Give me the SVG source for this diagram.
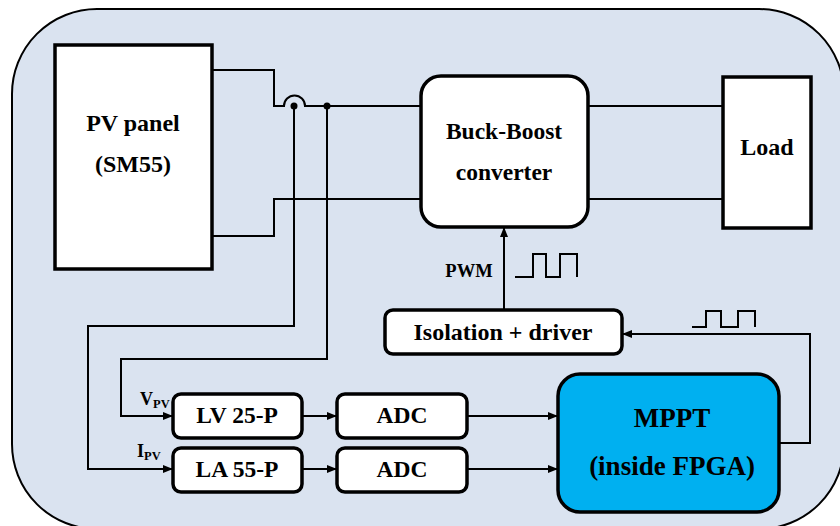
<svg xmlns="http://www.w3.org/2000/svg" width="840" height="526" viewBox="0 0 840 526">
<defs>
<marker id="arr" markerWidth="10" markerHeight="8" refX="10" refY="4" orient="auto" markerUnits="userSpaceOnUse">
<path d="M0,0 L10,4 L0,8 Z" fill="#000"/>
</marker>
<style>
.box{fill:#fff;stroke:#000;stroke-width:3.5}
.w{fill:none;stroke:#000;stroke-width:2}
.t{font-family:'Liberation Serif','Times New Roman',serif;font-weight:bold;fill:#000;text-anchor:middle}
.s{font-family:'Liberation Serif','Times New Roman',serif;font-weight:bold;fill:#000;text-anchor:start}
</style>
</defs>
<rect x="12" y="9" width="832" height="520" rx="85" ry="85" fill="#DAE3F0" stroke="#000" stroke-width="2"/>
<g id="connectors">
<path class="w" d="M212,70 H274 V106 H284 A10.5,10.5 0 0 1 305,106 H420"/>
<path class="w" d="M212,236 H274 V199 H420"/>
<path class="w" d="M588,106 H723"/>
<path class="w" d="M588,199 H723"/>
<circle cx="294" cy="106" r="3.5" fill="#000"/>
<circle cx="327" cy="106" r="3.5" fill="#000"/>
<path class="w" d="M294,106 V326 H88 V469 H173" marker-end="url(#arr)"/>
<path class="w" d="M327,106 V359 H121 V416 H173" marker-end="url(#arr)"/>
<path class="w" d="M302,416 H337" marker-end="url(#arr)"/>
<path class="w" d="M302,469 H337" marker-end="url(#arr)"/>
<path class="w" d="M467,416 H558" marker-end="url(#arr)"/>
<path class="w" d="M467,469 H558" marker-end="url(#arr)"/>
<path class="w" d="M779,443 H810 V334 H622" marker-end="url(#arr)"/>
<path class="w" d="M504,310 V227" marker-end="url(#arr)"/>
<path class="w" d="M515,277 H533 V254 H546 V277 H560 V254 H577 V277"/>
<path class="w" d="M692,327 H706 V311 H721 V327 H738 V311 H755 V327"/>
</g>
<g id="pv-panel">
<rect class="box" x="55" y="45" width="157" height="224"/>
<text class="t" x="133" y="131" font-size="24">PV panel</text>
<text class="t" x="133" y="172" font-size="24">(SM55)</text>
</g>
<g id="buck-boost">
<rect class="box" x="421" y="76" width="167" height="151" rx="20"/>
<text class="t" x="504" y="139" font-size="23.5">Buck-Boost</text>
<text class="t" x="504" y="180" font-size="23.5">converter</text>
</g>
<g id="load">
<rect class="box" x="723" y="77" width="88" height="151"/>
<text class="t" x="767" y="155" font-size="24">Load</text>
</g>
<g id="pwm-label">
<text class="t" x="469" y="277" font-size="18.5">PWM</text>
</g>
<g id="isolation">
<rect class="box" x="385" y="310" width="237" height="44" rx="8"/>
<text class="t" x="503" y="340" font-size="24">Isolation + driver</text>
</g>
<g id="lv25p">
<rect class="box" x="173" y="394" width="129" height="44" rx="8"/>
<text class="t" x="237" y="423" font-size="23.5">LV 25-P</text>
</g>
<g id="la55p">
<rect class="box" x="173" y="448" width="129" height="44" rx="8"/>
<text class="t" x="237" y="477" font-size="23.5">LA 55-P</text>
</g>
<g id="adc1">
<rect class="box" x="337" y="394" width="130" height="44" rx="8"/>
<text class="t" x="402" y="423" font-size="23.5">ADC</text>
</g>
<g id="adc2">
<rect class="box" x="337" y="448" width="130" height="44" rx="8"/>
<text class="t" x="402" y="477" font-size="23.5">ADC</text>
</g>
<g id="mppt">
<rect x="558" y="374" width="221" height="138" rx="22" fill="#00B0F0" stroke="#000" stroke-width="3.5"/>
<text class="t" x="672" y="427" font-size="27">MPPT</text>
<text class="t" x="672" y="475" font-size="27">(inside FPGA)</text>
</g>
<g id="labels">
<text class="s" x="140" y="405" font-size="18">V<tspan font-size="12.5" dy="3">PV</tspan></text>
<text class="s" x="137" y="457" font-size="18">I<tspan font-size="12.5" dy="3">PV</tspan></text>
</g>
</svg>
